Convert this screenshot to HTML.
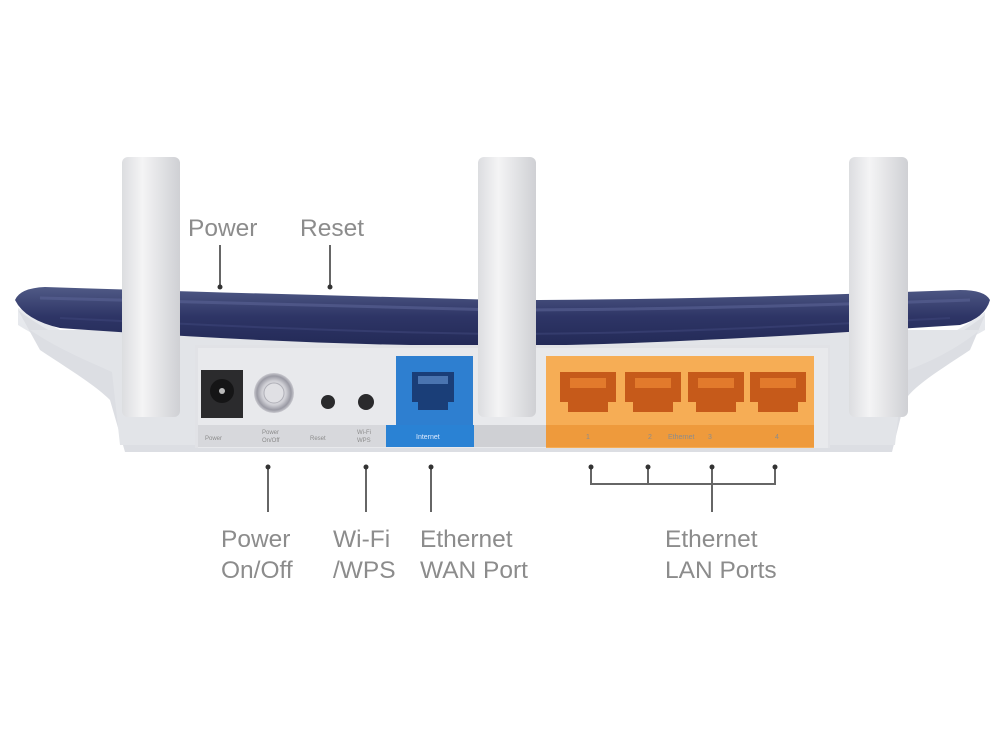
<!DOCTYPE html>
<html><head><meta charset="utf-8"><style>
html,body{margin:0;padding:0;background:#fff;}
svg{display:block;}
text{font-family:"Liberation Sans",sans-serif;fill:#8c8c8c;}
</style></head><body>
<svg width="1000" height="750" viewBox="0 0 1000 750" xmlns="http://www.w3.org/2000/svg">
<defs>
<linearGradient id="navy" x1="0" y1="0" x2="0" y2="1">
<stop offset="0" stop-color="#505a86"/><stop offset="0.5" stop-color="#2e3566"/><stop offset="1" stop-color="#232a57"/></linearGradient>
<linearGradient id="shell" x1="0" y1="0" x2="0" y2="1">
<stop offset="0" stop-color="#e9ebef"/><stop offset="1" stop-color="#d3d6dc"/></linearGradient>
<linearGradient id="ant" x1="0" y1="0" x2="1" y2="0">
<stop offset="0" stop-color="#dcdde0"/><stop offset="0.35" stop-color="#f4f4f5"/><stop offset="1" stop-color="#cfd0d4"/></linearGradient>
<radialGradient id="btn" cx="0.5" cy="0.5" r="0.5">
<stop offset="0" stop-color="#f3f3f5"/><stop offset="0.6" stop-color="#d0d0d6"/><stop offset="0.85" stop-color="#9a9aa4"/><stop offset="1" stop-color="#c9c9cf"/></radialGradient>
</defs>
<path d="M18,308 C60,330 90,345 110,360 L125,440 Q130,452 150,452 L870,452 Q888,452 892,440 L905,360 C930,345 960,330 985,312 L985,330 C950,350 920,360 905,375 L890,445 L125,445 L110,375 C90,360 50,345 18,325 Z" fill="url(#shell)"/>
<path d="M18,310 C50,335 90,350 112,362 L124,445 L892,445 L905,362 C930,350 960,335 985,315 L970,350 C940,370 915,385 905,400 L892,452 L125,452 L110,400 C95,385 70,370 40,350 Z" fill="#dcdee3"/>
<path d="M30,330 C60,350 90,362 112,372 L120,445 L895,445 L903,372 C930,362 955,350 980,330" fill="#e2e4e8"/>
<path d="M15,300 Q20,288 45,287 C200,292 350,296 500,300 C650,300 800,296 960,290 Q985,290 990,300 Q985,318 960,325 C800,335 650,345 500,346 C350,346 200,338 60,328 Q25,320 15,300 Z" fill="url(#navy)"/>
<path d="M40,298 C200,302 350,306 500,310 C650,310 800,306 970,300" stroke="#5a6394" stroke-width="3" fill="none" opacity="0.6"/>
<path d="M60,318 C200,325 350,332 500,334 C650,334 800,326 950,318" stroke="#3a4275" stroke-width="2" fill="none" opacity="0.7"/>
<path d="M195,345 L830,345 L830,448 L195,448 Z" fill="#e1e2e6"/>
<rect x="198" y="348" width="630" height="100" fill="#e8e9ec"/>
<rect x="198" y="425" width="188" height="22" fill="#d7d8dc"/>
<rect x="201" y="370" width="42" height="48" fill="#2b2b2d"/>
<circle cx="222" cy="391" r="12" fill="#151516"/>
<circle cx="222" cy="391" r="3" fill="#bbb"/>
<circle cx="274" cy="393" r="20" fill="url(#btn)"/>
<circle cx="274" cy="393" r="10" fill="#e0e0e4" stroke="#b0b0b8" stroke-width="1"/>
<circle cx="328" cy="402" r="7" fill="#2a2a2c"/>
<circle cx="366" cy="402" r="8" fill="#2a2a2c"/>
<text x="205" y="440" font-size="6">Power</text>
<text x="262" y="434" font-size="6">Power</text>
<text x="262" y="442" font-size="6">On/Off</text>
<text x="310" y="440" font-size="6">Reset</text>
<text x="357" y="434" font-size="6">Wi-Fi</text>
<text x="357" y="442" font-size="6">WPS</text>
<rect x="396" y="356" width="77" height="70" fill="#2e7fd0"/>
<rect x="386" y="425" width="88" height="22" fill="#2a82d4"/>
<text x="416" y="439" font-size="7" style="fill:#e0ecff">Internet</text>
<path d="M412,372 h42 v30 h-6 v8 h-30 v-8 h-6 z" fill="#1a3e78"/>
<rect x="418" y="376" width="30" height="8" fill="#4a74b0"/>
<rect x="474" y="425" width="72" height="22" fill="#cfd0d4"/>
<rect x="546" y="356" width="268" height="92" fill="#f6ad55"/>
<rect x="546" y="425" width="268" height="22" fill="#ee9a3c"/>
<g fill="#c65a1a">
<path d="M560,372 h56 v30 h-8 v10 h-40 v-10 h-8 z"/>
<path d="M625,372 h56 v30 h-8 v10 h-40 v-10 h-8 z"/>
<path d="M688,372 h56 v30 h-8 v10 h-40 v-10 h-8 z"/>
<path d="M750,372 h56 v30 h-8 v10 h-40 v-10 h-8 z"/>
</g>
<g fill="#e27a2c">
<rect x="570" y="378" width="36" height="10"/><rect x="635" y="378" width="36" height="10"/>
<rect x="698" y="378" width="36" height="10"/><rect x="760" y="378" width="36" height="10"/>
</g>
<g font-size="7" style="fill:#fff1de">
<text x="586" y="439">1</text><text x="648" y="439">2</text><text x="668" y="439">Ethernet</text><text x="708" y="439">3</text><text x="775" y="439">4</text>
</g>
<rect x="122" y="157" width="58" height="260" rx="6" fill="url(#ant)"/>
<rect x="478" y="157" width="58" height="260" rx="6" fill="url(#ant)"/>
<rect x="849" y="157" width="59" height="260" rx="6" fill="url(#ant)"/>
<g font-size="24.5">
<text x="188" y="236">Power</text>
<text x="300" y="236">Reset</text>
</g>
<g stroke="#666" stroke-width="2">
<line x1="220" y1="245" x2="220" y2="286"/><line x1="330" y1="245" x2="330" y2="286"/>
<line x1="268" y1="467" x2="268" y2="512"/><line x1="366" y1="467" x2="366" y2="512"/>
<line x1="431" y1="467" x2="431" y2="512"/>
<line x1="591" y1="467" x2="591" y2="484"/><line x1="648" y1="467" x2="648" y2="484"/>
<line x1="712" y1="467" x2="712" y2="512"/><line x1="775" y1="467" x2="775" y2="484"/>
<line x1="590" y1="484" x2="776" y2="484"/>
</g>
<g fill="#333">
<circle cx="220" cy="287" r="2.5"/><circle cx="330" cy="287" r="2.5"/>
<circle cx="268" cy="467" r="2.5"/><circle cx="366" cy="467" r="2.5"/><circle cx="431" cy="467" r="2.5"/>
<circle cx="591" cy="467" r="2.5"/><circle cx="648" cy="467" r="2.5"/><circle cx="712" cy="467" r="2.5"/><circle cx="775" cy="467" r="2.5"/>
</g>
<g font-size="24.5">
<text x="221" y="547">Power</text><text x="221" y="578">On/Off</text>
<text x="333" y="547">Wi-Fi</text><text x="333" y="578">/WPS</text>
<text x="420" y="547">Ethernet</text><text x="420" y="578">WAN Port</text>
<text x="665" y="547">Ethernet</text><text x="665" y="578">LAN Ports</text>
</g>
</svg>
</body></html>
